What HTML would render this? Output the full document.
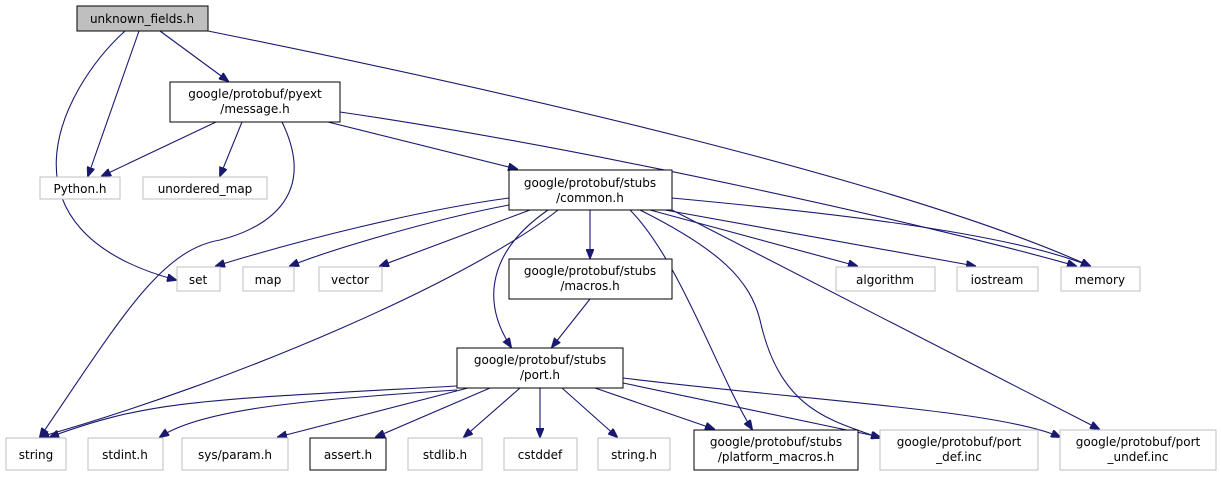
<!DOCTYPE html>
<html><head><meta charset="utf-8"><style>
html,body{margin:0;padding:0;background:#fff;}
svg{display:block;}
text{font-family:"DejaVu Sans","Liberation Sans",sans-serif;font-size:12px;fill:#000;text-anchor:middle;}
.b{fill:#fff;stroke:#000;stroke-width:1;}
.g{fill:#fff;stroke:#bfbfbf;stroke-width:1;}
.e{fill:none;stroke:#191970;stroke-width:1.1;}
</style></head><body>
<svg width="1221" height="484" viewBox="0 0 1221 484" xmlns="http://www.w3.org/2000/svg">
<defs><marker id="a" markerWidth="10" markerHeight="8" refX="9" refY="4" orient="auto" markerUnits="userSpaceOnUse"><path d="M0,0 L10,4 L0,8 z" fill="#191970" stroke="#191970"/></marker></defs>
<g class="e" marker-end="url(#a)">
<path d="M125,31 C60,90 -10,230 176,280"/>
<path d="M139,31 L88,176"/>
<path d="M160,31 L228,81"/>
<path d="M208,31 C500,90 900,180 1090,266"/>
<path d="M216,122 L102,176"/>
<path d="M242,122 L220,176"/>
<path d="M282,122 C320,200 260,230 220,240 C160,250 120,320 40,437"/>
<path d="M328,122 L517,169"/>
<path d="M340,112 C600,150 950,230 1076,266"/>
<path d="M509,198 C420,210 300,240 216,266"/>
<path d="M509,205 C430,220 330,250 290,266"/>
<path d="M530,210 L380,266"/>
<path d="M590,210 L590,258"/>
<path d="M558,210 C470,280 240,380 40,437"/>
<path d="M548,210 C490,250 480,300 511,347"/>
<path d="M630,210 C680,260 720,380 752,429"/>
<path d="M640,210 C720,250 750,280 760,320 C780,410 830,420 880,438"/>
<path d="M672,210 L1099,429"/>
<path d="M650,210 L857,266"/>
<path d="M665,210 L975,266"/>
<path d="M672,198 C800,210 1000,230 1090,266"/>
<path d="M590,299 L552,347"/>
<path d="M457,386 C200,400 150,400 50,437"/>
<path d="M457,390 C300,400 200,410 160,437"/>
<path d="M468,388 L278,437"/>
<path d="M490,388 L376,437"/>
<path d="M520,388 L464,437"/>
<path d="M540,388 L540,437"/>
<path d="M562,388 L617,437"/>
<path d="M595,388 L714,429"/>
<path d="M623,383 L880,437"/>
<path d="M623,378 C800,400 1000,410 1060,437"/>
</g>
<rect x="77" y="6" width="131" height="25" fill="#bfbfbf" stroke="#000"/><text x="142" y="23">unknown_fields.h</text>
<rect class="b" x="170" y="82" width="170" height="40"/><text x="255" y="98">google/protobuf/pyext</text><text x="255" y="113">/message.h</text>
<rect class="g" x="40" y="177" width="80" height="22"/><text x="80" y="193">Python.h</text>
<rect class="g" x="143" y="177" width="124" height="22"/><text x="205" y="193">unordered_map</text>
<rect class="b" x="509" y="170" width="163" height="40"/><text x="590" y="187">google/protobuf/stubs</text><text x="590" y="202">/common.h</text>
<rect class="g" x="177" y="267" width="43" height="24"/><text x="198" y="284">set</text>
<rect class="g" x="243" y="267" width="51" height="24"/><text x="268" y="284">map</text>
<rect class="g" x="319" y="267" width="63" height="24"/><text x="350" y="284">vector</text>
<rect class="g" x="836" y="267" width="99" height="24"/><text x="885" y="284">algorithm</text>
<rect class="g" x="957" y="267" width="81" height="24"/><text x="997" y="284">iostream</text>
<rect class="g" x="1061" y="267" width="79" height="24"/><text x="1100" y="284">memory</text>
<rect class="b" x="509" y="259" width="163" height="40"/><text x="590" y="275">google/protobuf/stubs</text><text x="590" y="290">/macros.h</text>
<rect class="b" x="457" y="348" width="166" height="40"/><text x="540" y="364">google/protobuf/stubs</text><text x="540" y="379">/port.h</text>
<rect class="g" x="6" y="438" width="60" height="32"/><text x="36" y="459">string</text>
<rect class="g" x="88" y="438" width="75" height="32"/><text x="125" y="459">stdint.h</text>
<rect class="g" x="182" y="438" width="106" height="32"/><text x="235" y="459">sys/param.h</text>
<rect class="b" x="310" y="438" width="76" height="32"/><text x="348" y="459">assert.h</text>
<rect class="g" x="408" y="438" width="74" height="32"/><text x="445" y="459">stdlib.h</text>
<rect class="g" x="504" y="438" width="73" height="32"/><text x="540" y="459">cstddef</text>
<rect class="g" x="598" y="438" width="72" height="32"/><text x="634" y="459">string.h</text>
<rect class="b" x="694" y="430" width="164" height="40"/><text x="776" y="446">google/protobuf/stubs</text><text x="776" y="461">/platform_macros.h</text>
<rect class="g" x="880" y="430" width="158" height="40"/><text x="959" y="446">google/protobuf/port</text><text x="959" y="461">_def.inc</text>
<rect class="g" x="1060" y="430" width="156" height="40"/><text x="1138" y="446">google/protobuf/port</text><text x="1138" y="461">_undef.inc</text>
</svg>
</body></html>
